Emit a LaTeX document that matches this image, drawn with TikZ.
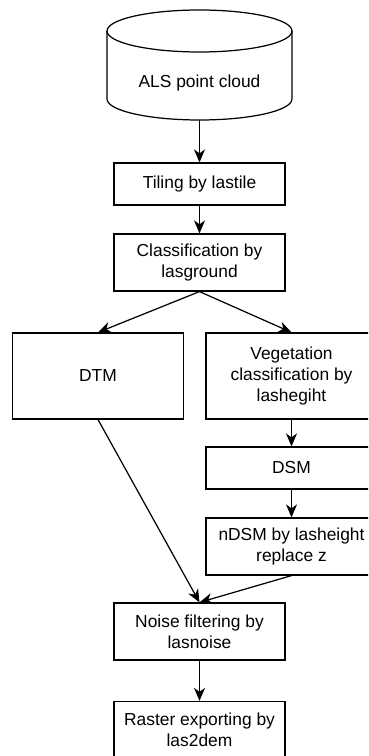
\documentclass[tikz,border=0pt]{standalone}
\usepackage{fontspec}
\setmainfont{Liberation Sans}
\usetikzlibrary{arrows.meta}

\begin{document}
\begin{tikzpicture}[x=0.02cm, y=-0.02cm,
  font=\fontsize{9.9}{11.7}\selectfont,
  boite/.style={draw, line width=0.7pt, minimum width=3.42cm, inner sep=0pt, align=center},
  fleche/.style={-{Stealth[length=2.6mm, width=2.2mm, inset=0.8mm]}, line width=0.7pt}]

% Cadre de l'image
\useasboundingbox (0,0) rectangle (368,756);
\clip (0,0) rectangle (368,756);

% Nuage de points (cylindre)
\draw[line width=0.7pt] (199.5,31) ellipse [x radius=1.85cm, y radius=0.42cm];
\draw[line width=0.7pt] (107,31) -- (107,99)
  arc[start angle=180, end angle=360, x radius=1.85cm, y radius=0.42cm] -- (292,31);
\node (als) at (199.5,83) {ALS point cloud};
\coordinate (alsbas) at (199.5,120);

% Etapes du traitement
\node[boite, minimum height=0.84cm] (tuilage) at (199.5,184) {Tiling by lastile};
\node[boite, minimum height=1.14cm] (classif) at (199.5,262.5) {Classification by\\lasground};
\node[boite, minimum height=1.72cm] (mnt) at (98,376) {DTM};
\node[boite, minimum height=1.72cm] (veget) at (291.5,376) {Vegetation\\classification by\\lashegiht};
\node[boite, minimum height=0.84cm] (mns) at (291.5,468) {DSM};
\node[boite, minimum height=1.14cm] (nmns) at (291.5,546.5) {nDSM by lasheight\\replace z};
\node[boite, minimum height=1.14cm] (bruit) at (199.5,631.5) {Noise filtering by\\lasnoise};
\node[boite, minimum height=1.14cm] (raster) at (199.5,730) {Raster exporting by\\las2dem};

% Flèches
\draw[fleche] (alsbas) -- (tuilage.north);
\draw[fleche] (tuilage) -- (classif);
\draw[fleche] (classif.south) -- (mnt.north);
\draw[fleche] (classif.south) -- (veget.north);
\draw[fleche] (veget) -- (mns);
\draw[fleche] (mns) -- (nmns);
\draw[fleche] (mnt.south) -- (bruit.north);
\draw[fleche] (nmns.south) -- (bruit.north);
\draw[fleche] (bruit) -- (raster);

\end{tikzpicture}
\end{document}
